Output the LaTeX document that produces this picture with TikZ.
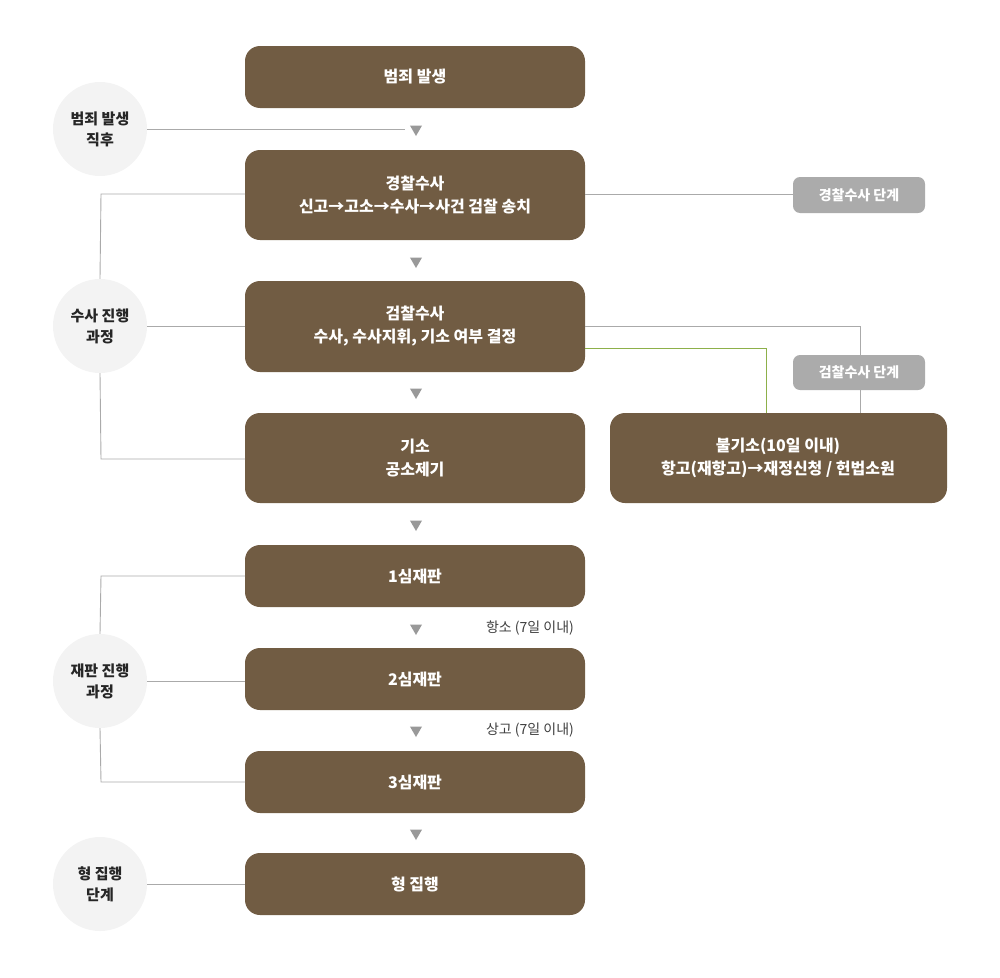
\documentclass[tikz,border=0pt]{standalone}
\usepackage{fontspec}
\setmainfont{Noto Sans CJK KR}
\usetikzlibrary{shapes.geometric}
\definecolor{brn}{HTML}{715C43}
\definecolor{circ}{HTML}{F3F3F3}
\definecolor{tag}{HTML}{ABABAB}
\definecolor{ln}{HTML}{AAAAAA}
\definecolor{grn}{HTML}{8DB04A}
\begin{document}
\begin{tikzpicture}[x=1pt,y=-1pt,
 box/.style={fill=brn,rounded corners=15pt,text=white,font=\fontsize{16}{23}\selectfont\bfseries,align=center,inner sep=0},
 cir/.style={circle,fill=circ,minimum size=94pt,inner sep=0,align=center,font=\fontsize{15}{21}\selectfont\bfseries,text=black!85},
 tg/.style={fill=tag,rounded corners=7pt,text=white,font=\fontsize{14}{18}\selectfont\bfseries,inner sep=0},
 tri/.style={regular polygon,regular polygon sides=3,shape border rotate=180,fill=ln!90!black,minimum size=14pt,inner sep=0},
 conn/.style={draw=ln,line width=0.9pt},
 lab/.style={font=\fontsize{14}{18}\selectfont,text=black!75}]
\useasboundingbox (0,0) rectangle (1000,977);
\def\bx#1#2#3#4{\path[box] (245,#2) rectangle (585,#3); \node[text=white,font=\fontsize{16}{23}\selectfont\bfseries,align=center] (#1) at (415,{(#2+#3)/2}) {#4};}
\bx{b1}{46}{108}{범죄 발생}
\bx{b2}{150}{240}{경찰수사\\신고→고소→수사→사건 검찰 송치}
\bx{b3}{281}{372}{검찰수사\\수사, 수사지휘, 기소 여부 결정}
\bx{b4}{413}{503}{기소\\공소제기}
\bx{b5}{545}{607}{1심재판}
\bx{b6}{648}{710}{2심재판}
\bx{b7}{751}{813}{3심재판}
\bx{b8}{853}{915}{형 집행}
\path[box] (610,413) rectangle (947,503);
\node[text=white,font=\fontsize{16}{23}\selectfont\bfseries,align=center] (nb) at (778,458) {불기소(10일 이내)\\항고(재항고)→재정신청 / 헌법소원};
\node[cir] (c1) at (100,129) {범죄 발생\\직후};
\node[cir] (c2) at (100,326) {수사 진행\\과정};
\node[cir] (c3) at (100,681) {재판 진행\\과정};
\node[cir] (c4) at (100,884) {형 집행\\단계};
\path[tg] (793,177) rectangle (925,213); \node[text=white,font=\fontsize{14}{18}\selectfont\bfseries] (t1) at (859,195) {경찰수사 단계};
\path[tg] (793,355) rectangle (925,390); \node[text=white,font=\fontsize{14}{18}\selectfont\bfseries] (t2) at (859,372) {검찰수사 단계};
\foreach \y [count=\i] in {129,261,392,524,628,730,833} \node[tri] (tr\i) at (416,\y) {};
\node[lab] (l1) at (530,628) {항소 (7일 이내)};
\node[lab] (l2) at (530,730) {상고 (7일 이내)};
\draw[conn] (c1.east) -- (405,129);
\draw[conn] (245,194) -- (101,194) -- (c2.north);
\draw[conn] (c2.east) -- (245,326);
\draw[conn] (c2.south) -- (101,459) -- (245,459);
\draw[conn] (585,194) -- (793,194);
\draw[conn] (585,326) -- (860,326) -- (860,355);
\draw[conn] (860,390) -- (860,413);
\draw[draw=grn,line width=0.9pt] (585,348) -- (766,348) -- (766,413);
\draw[conn] (245,576) -- (101,576) -- (c3.north);
\draw[conn] (c3.east) -- (245,681);
\draw[conn] (c3.south) -- (101,782) -- (245,782);
\draw[conn] (c4.east) -- (245,884);
\end{tikzpicture}
\end{document}
